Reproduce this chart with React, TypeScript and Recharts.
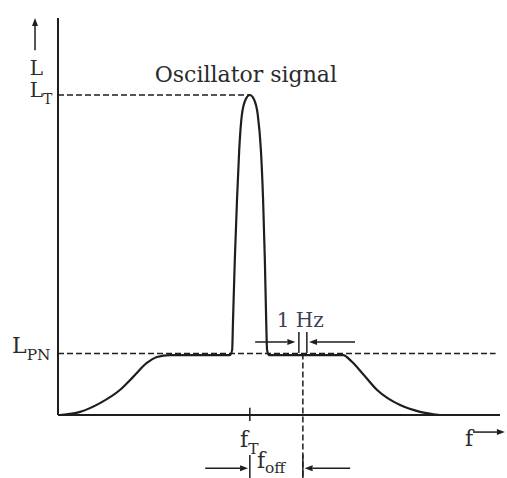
import {
  ComposedChart,
  Line,
  XAxis,
  YAxis,
  ReferenceLine,
  ReferenceDot,
} from 'recharts';

// Spectrum of an oscillator: noise pedestal with the carrier peak on top
const FREQ = [
  0.45, 5.0, 9.5, 14.0, 17.0, 20.1, 22.4, 25.3, 38.9,
  39.4, 39.6, 40.0, 40.5, 41.0, 41.6, 42.5, 43.4, 44.3, 45.2, 45.9, 46.4, 46.8, 47.1, 47.3,
  47.7, 64.5, 66.5, 68.8, 72.2, 77.4, 81.9, 86.4,
];
const LEVEL = [
  0, 0.8, 3.0, 6.3, 9.6, 13.1, 14.6, 15.1, 15.1,
  16.4, 23.9, 39.0, 54.2, 66.8, 75.6, 79.6, 80.6, 79.6, 75.6, 66.8, 54.2, 39.0, 23.9, 16.4,
  15.1, 15.1, 13.4, 10.6, 6.3, 2.5, 0.8, 0,
];

const L_T = 80.6; // carrier level
const L_PN = 15.5; // phase noise level
const F_T = 43.4; // carrier frequency
const F_OFF = 55.4; // offset frequency
const HZ_BAND = [54.5, 56.3]; // 1 Hz measurement bandwidth

const data = FREQ.map((f, i) => ({ f, level: LEVEL[i] }));

const INK = '#1e1e1e';
const TEXT = '#2b2b2b';
const FONT = '"DejaVu Serif", serif';

function Arrow(props: any) {
  const { x1, y1, x2, y2 } = props;
  const dx = x2 - x1;
  const dy = y2 - y1;
  const len = Math.hypot(dx, dy) || 1;
  const ux = dx / len;
  const uy = dy / len;
  const head = 8;
  const half = 3;
  const bx = x2 - ux * head;
  const by = y2 - uy * head;
  return (
    <g>
      <line x1={x1} y1={y1} x2={bx} y2={by} stroke={INK} strokeWidth={1.5} />
      <polygon
        points={`${x2},${y2} ${bx - uy * half},${by + ux * half} ${bx + uy * half},${by - ux * half}`}
        fill={INK}
      />
    </g>
  );
}

function Label(text: string, sub?: string, size = 22, color = TEXT, subDy = 7) {
  return (p: any) => (
    <text x={p.cx} y={p.cy} fontFamily={FONT} fontSize={size} fill={color}>
      {text}
      {sub && (
        <tspan fontSize={size * 0.7} dy={subDy}>
          {sub}
        </tspan>
      )}
    </text>
  );
}

function arrow(from: [number, number], to: [number, number], key: string) {
  return (
    <ReferenceLine
      key={key}
      segment={[
        { x: from[0], y: from[1] },
        { x: to[0], y: to[1] },
      ]}
      ifOverflow="visible"
      shape={Arrow}
    />
  );
}

function rule(x0: number, y0: number, x1: number, y1: number, key: string, width = 1.5) {
  return (
    <ReferenceLine
      key={key}
      segment={[
        { x: x0, y: y0 },
        { x: x1, y: y1 },
      ]}
      stroke={INK}
      strokeWidth={width}
      ifOverflow="visible"
    />
  );
}

export default function App() {
  return (
    <div style={{ width: 507, height: 478, background: '#fff' }}>
      <style>{'body{margin:0}'}</style>
      <ComposedChart
        width={507}
        height={478}
        data={data}
        margin={{ top: 18, right: 7, bottom: 63, left: 58 }}
      >
        <XAxis dataKey="f" type="number" domain={[0, 100]} allowDataOverflow hide />
        <YAxis type="number" domain={[0, 100]} allowDataOverflow hide />

        {/* axes */}
        {rule(0, 0, 0, 100, 'axisY', 2)}
        {rule(0, 0, 100, 0, 'axisX', 2)}

        {/* dashed level markers */}
        <ReferenceLine
          segment={[
            { x: 0, y: L_T },
            { x: F_T, y: L_T },
          ]}
          stroke={INK}
          strokeWidth={1.5}
          strokeDasharray="6 3"
        />
        <ReferenceLine
          segment={[
            { x: 0, y: L_PN },
            { x: 99, y: L_PN },
          ]}
          stroke={INK}
          strokeWidth={1.5}
          strokeDasharray="6 3"
        />
        <ReferenceLine
          segment={[
            { x: F_OFF, y: L_PN },
            { x: F_OFF, y: -16 },
          ]}
          stroke={INK}
          strokeWidth={1.5}
          strokeDasharray="6 3"
          ifOverflow="visible"
        />

        <Line
          dataKey="level"
          type="monotone"
          stroke={INK}
          strokeWidth={2.2}
          dot={false}
          isAnimationActive={false}
        />

        {/* 1 Hz bandwidth marker */}
        {rule(HZ_BAND[0], 15.6, HZ_BAND[0], 20.9, 'hz0')}
        {rule(HZ_BAND[1], 15.6, HZ_BAND[1], 20.9, 'hz1')}
        {arrow([44.6, 18.4], [HZ_BAND[0] - 0.8, 18.4], 'hzL')}
        {arrow([67.2, 18.4], [HZ_BAND[1] + 0.5, 18.4], 'hzR')}

        {/* carrier tick and offset span */}
        {rule(F_T, 1.8, F_T, -1.5, 'ft')}
        {rule(F_T, -10.1, F_T, -16, 'offL')}
        {rule(F_OFF, -10.1, F_OFF, -16, 'offR')}
        {arrow([33.3, -13.4], [F_T - 0.4, -13.4], 'offArrowL')}
        {arrow([66.1, -13.4], [F_OFF + 0.4, -13.4], 'offArrowR')}

        {/* axis direction arrows */}
        {arrow([-5.2, 91.9], [-5.2, 100], 'axisL')}
        {arrow([93.9, -4.3], [101.1, -4.3], 'axisF')}

        <ReferenceDot x={21.9} y={83.9} r={0} ifOverflow="visible" shape={Label('Oscillator signal')} />
        <ReferenceDot x={-6.4} y={85.6} r={0} ifOverflow="visible" shape={Label('L', undefined, 20)} />
        <ReferenceDot x={-6.4} y={80.1} r={0} ifOverflow="visible" shape={Label('L', 'T', 20, TEXT, 7)} />
        <ReferenceDot x={-10.4} y={15.6} r={0} ifOverflow="visible" shape={Label('L', 'PN')} />
        <ReferenceDot x={49.5} y={22.2} r={0} ifOverflow="visible" shape={Label('1 Hz', undefined, 20, '#3d4050')} />
        <ReferenceDot x={41.2} y={-8.1} r={0} ifOverflow="visible" shape={Label('f', 'T')} />
        <ReferenceDot x={45.0} y={-13.4} r={0} ifOverflow="visible" shape={Label('f', 'off', 22, TEXT, 5)} />
        <ReferenceDot x={92.1} y={-7.8} r={0} ifOverflow="visible" shape={Label('f')} />
      </ComposedChart>
    </div>
  );
}
